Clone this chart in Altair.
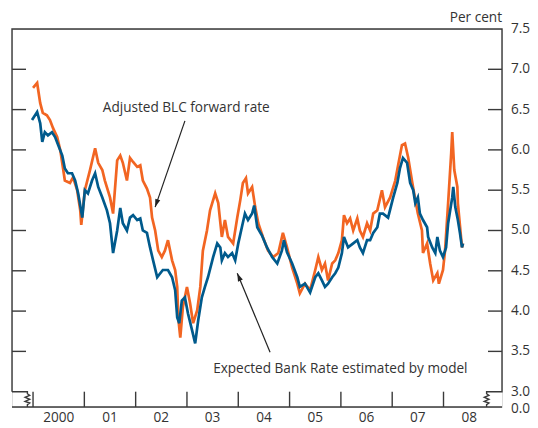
import altair as alt
import pandas as pd

# ---------------- data ----------------
# Adjusted BLC forward rate (orange), decimal year / per cent
blc_dates = [2000.00, 2000.04, 2000.08, 2000.14, 2000.19, 2000.27, 2000.33, 2000.39, 2000.47, 2000.53,
             2000.58, 2000.62, 2000.72, 2000.78, 2000.86, 2000.92, 2000.94, 2001.01, 2001.11, 2001.21,
             2001.27, 2001.35, 2001.40, 2001.50, 2001.56, 2001.64, 2001.70, 2001.75, 2001.83, 2001.89,
             2001.95, 2002.03, 2002.09, 2002.14, 2002.22, 2002.28, 2002.32, 2002.38, 2002.44, 2002.51,
             2002.57, 2002.63, 2002.71, 2002.77, 2002.81, 2002.83, 2002.87, 2002.92, 2003.00, 2003.06,
             2003.12, 2003.20, 2003.26, 2003.31, 2003.39, 2003.45, 2003.55, 2003.61, 2003.68, 2003.74,
             2003.80, 2003.90, 2003.98, 2004.04, 2004.09, 2004.15, 2004.19, 2004.27, 2004.33, 2004.39,
             2004.48, 2004.58, 2004.68, 2004.78, 2004.87, 2004.95, 2005.05, 2005.15, 2005.20, 2005.30,
             2005.40, 2005.50, 2005.56, 2005.63, 2005.69, 2005.75, 2005.83, 2005.89, 2005.95, 2006.02,
             2006.06, 2006.12, 2006.18, 2006.24, 2006.32, 2006.37, 2006.43, 2006.51, 2006.57, 2006.63,
             2006.71, 2006.80, 2006.86, 2006.96, 2007.06, 2007.11, 2007.19, 2007.25, 2007.31, 2007.39,
             2007.45, 2007.50, 2007.58, 2007.60, 2007.68, 2007.74, 2007.80, 2007.88, 2007.91, 2007.99,
             2008.03, 2008.09, 2008.15, 2008.17, 2008.21, 2008.27, 2008.28, 2008.36, 2008.38]
blc_vals = [6.77, 6.80, 6.83, 6.58, 6.46, 6.43, 6.37, 6.27, 6.16, 6.00,
            5.79, 5.62, 5.59, 5.66, 5.50, 5.25, 5.07, 5.50, 5.75, 6.02,
            5.84, 5.75, 5.62, 5.41, 5.21, 5.87, 5.93, 5.84, 5.62, 5.90,
            5.85, 5.79, 5.81, 5.62, 5.52, 5.41, 5.16, 5.00, 4.75, 4.67,
            4.75, 4.88, 4.63, 4.51, 4.30, 3.92, 3.67, 4.05, 4.30, 4.10,
            3.85, 4.01, 4.30, 4.75, 5.00, 5.25, 5.46, 5.34, 4.92, 5.13,
            4.92, 4.84, 5.16, 5.38, 5.59, 5.65, 5.46, 5.54, 5.29, 5.09,
            4.92, 4.75, 4.67, 4.72, 4.97, 4.79, 4.54, 4.34, 4.22, 4.34,
            4.26, 4.51, 4.67, 4.51, 4.59, 4.38, 4.59, 4.63, 4.72, 4.88,
            5.19, 5.09, 5.15, 5.00, 5.15, 5.00, 4.92, 5.09, 5.00, 5.21,
            5.25, 5.50, 5.29, 5.41, 5.62, 5.79, 6.06, 6.08, 5.91, 5.60,
            5.38, 5.21, 5.00, 4.72, 4.84, 4.59, 4.38, 4.47, 4.34, 4.51,
            4.75, 5.34, 5.96, 6.22, 5.75, 5.54, 5.34, 4.79, 4.84]

# Expected Bank Rate estimated by model (blue)
model_dates = [1999.98, 2000.08, 2000.14, 2000.18, 2000.23, 2000.29, 2000.37, 2000.43, 2000.49, 2000.57,
               2000.62, 2000.68, 2000.76, 2000.82, 2000.88, 2000.96, 2001.01, 2001.07, 2001.15, 2001.21,
               2001.27, 2001.35, 2001.44, 2001.50, 2001.56, 2001.64, 2001.70, 2001.75, 2001.83, 2001.89,
               2001.95, 2002.03, 2002.09, 2002.14, 2002.22, 2002.28, 2002.34, 2002.42, 2002.48, 2002.53,
               2002.63, 2002.71, 2002.77, 2002.81, 2002.85, 2002.90, 2002.96, 2003.02, 2003.10, 2003.16,
               2003.22, 2003.29, 2003.35, 2003.41, 2003.51, 2003.59, 2003.65, 2003.68, 2003.74, 2003.80,
               2003.88, 2003.94, 2004.00, 2004.07, 2004.13, 2004.19, 2004.27, 2004.31, 2004.37, 2004.46,
               2004.56, 2004.66, 2004.76, 2004.85, 2004.89, 2004.95, 2005.05, 2005.15, 2005.20, 2005.30,
               2005.40, 2005.50, 2005.56, 2005.63, 2005.69, 2005.75, 2005.83, 2005.89, 2005.95, 2006.02,
               2006.06, 2006.14, 2006.24, 2006.32, 2006.37, 2006.43, 2006.51, 2006.57, 2006.63, 2006.71,
               2006.76, 2006.82, 2006.92, 2007.02, 2007.10, 2007.15, 2007.21, 2007.29, 2007.35, 2007.41,
               2007.45, 2007.50, 2007.54, 2007.60, 2007.68, 2007.70, 2007.78, 2007.84, 2007.88, 2007.93,
               2007.99, 2008.05, 2008.09, 2008.17, 2008.19, 2008.23, 2008.28, 2008.32, 2008.36, 2008.38]
model_vals = [6.37, 6.47, 6.33, 6.10, 6.22, 6.18, 6.22, 6.16, 6.06, 5.93,
              5.77, 5.71, 5.71, 5.62, 5.46, 5.16, 5.50, 5.46, 5.62, 5.71,
              5.54, 5.41, 5.25, 5.09, 4.72, 5.00, 5.28, 5.09, 5.00, 5.16,
              5.19, 5.13, 5.15, 5.00, 4.97, 4.79, 4.63, 4.42, 4.47, 4.51,
              4.51, 4.42, 4.26, 3.92, 3.85, 4.13, 4.17, 3.97, 3.76, 3.60,
              3.89, 4.17, 4.30, 4.42, 4.67, 4.84, 4.79, 4.63, 4.72, 4.67,
              4.72, 4.63, 4.84, 5.04, 5.21, 5.13, 5.21, 5.31, 5.04, 4.94,
              4.79, 4.67, 4.59, 4.75, 4.88, 4.73, 4.59, 4.42, 4.30, 4.34,
              4.23, 4.42, 4.47, 4.38, 4.30, 4.34, 4.42, 4.47, 4.54, 4.72,
              4.92, 4.79, 4.84, 4.88, 4.79, 4.72, 4.88, 4.88, 4.97, 5.04,
              5.21, 5.21, 5.16, 5.41, 5.59, 5.77, 5.90, 5.84, 5.59, 5.50,
              5.34, 5.41, 5.21, 5.13, 5.04, 4.92, 4.79, 4.72, 4.92, 4.75,
              4.67, 4.79, 5.09, 5.41, 5.54, 5.29, 5.13, 4.97, 4.79, 4.84]

year_ticks = [2000, 2001, 2002, 2003, 2004, 2005, 2006, 2007, 2008]
year_labels = ["2000", "01", "02", "03", "04", "05", "06", "07", "08"]
y_tick_vals = [3.5, 4.0, 4.5, 5.0, 5.5, 6.0, 6.5, 7.0]
y_label_vals = [3.0, 3.5, 4.0, 4.5, 5.0, 5.5, 6.0, 6.5, 7.0, 7.5]
y_label_text = ["3.0", "3.5", "4.0", "4.5", "5.0", "5.5", "6.0", "6.5", "7.0", "7.5"]
break_label = "0.0"

ann_blc = "Adjusted BLC forward rate"
ann_model = "Expected Bank Rate estimated by model"
unit_label = "Per cent"

# ---------------- scales / styling ----------------
X_MIN, X_MAX = 1999.59, 2009.14
Y_BOT, Y_TOP = 2.81, 7.5      # broken axis: bottom of frame stands for 0.0
BREAK_W = 0.30               # width of the axis-break jog (years)
W, H = 490, 378
FONT = "Open Sans"
FS = 13.6
TXT = "#333333"
FRAME = "#3a3a3a"
ORANGE = "#F26522"
BLUE = "#005A8C"

xs = alt.Scale(domain=[X_MIN, X_MAX], nice=False, zero=False)
ys = alt.Scale(domain=[Y_BOT, Y_TOP], nice=False, zero=False)

XN = lambda f: alt.X(f, scale=xs, axis=None)
YN = lambda f: alt.Y(f, scale=ys, axis=None)

blc_df = pd.DataFrame({"t": blc_dates, "v": blc_vals})
model_df = pd.DataFrame({"t": model_dates, "v": model_vals})

blc_line = alt.Chart(blc_df).mark_line(color=ORANGE, strokeWidth=2.7).encode(
    x=XN("t:Q"), y=YN("v:Q"))
model_line = alt.Chart(model_df).mark_line(color=BLUE, strokeWidth=2.7).encode(
    x=XN("t:Q"), y=YN("v:Q"))

# ---------------- frame with axis breaks ----------------
def zig(x0, amp):
    return [(x0, 3.0), (x0, 2.975), (x0 + amp, 2.955), (x0 - amp, 2.93), (x0 + amp, 2.905),
            (x0 - amp, 2.88), (x0 + amp, 2.86), (x0, 2.84), (x0, Y_BOT)]

segs = []
outline = [(X_MIN, 3.0), (X_MIN, Y_TOP), (X_MAX, Y_TOP), (X_MAX, 3.0), (X_MAX - BREAK_W, 3.0)] + \
    zig(X_MAX - BREAK_W, 0.045)[1:]
left_jog = [(X_MIN, 3.0)] + zig(X_MIN + BREAK_W, 0.045)
bottom = [(X_MIN, Y_BOT), (X_MAX, Y_BOT)]
for name, pts in [("outline", outline), ("left", left_jog), ("bottom", bottom)]:
    for i, (a, b) in enumerate(pts):
        segs.append({"seg": name, "o": i, "x": a, "y": b})
frame = alt.Chart(pd.DataFrame(segs)).mark_line(color=FRAME, strokeWidth=1.4).encode(
    x=XN("x:Q"), y=YN("y:Q"), detail="seg:N", order="o:Q")

xticks = alt.Chart(pd.DataFrame({"t": year_ticks})).mark_rule(color=FRAME, strokeWidth=1.4).encode(
    x=XN("t:Q"), y=alt.datum(Y_BOT, scale=ys, axis=None), y2=alt.datum(3.0))
yt_df = pd.DataFrame({"v": y_tick_vals})
yticks_l = alt.Chart(yt_df).mark_rule(color=FRAME, strokeWidth=1.4).encode(
    y=YN("v:Q"), x=alt.value(0), x2=alt.value(14))
yticks_r = alt.Chart(yt_df).mark_rule(color=FRAME, strokeWidth=1.4).encode(
    y=YN("v:Q"), x=alt.value(W - 14), x2=alt.value(W))

# ---------------- tick labels (as text) ----------------
ylab_df = pd.DataFrame({"v": y_label_vals, "s": y_label_text})
ylabels = alt.Chart(ylab_df).mark_text(align="left", baseline="middle", font=FONT, fontSize=FS,
                                       color=TXT).encode(
    x=alt.value(W + 9), y=YN("v:Q"), text="s:N")
zero_label = alt.Chart(pd.DataFrame({"v": [Y_BOT], "s": [break_label]})).mark_text(
    align="left", baseline="middle", font=FONT, fontSize=FS, color=TXT, dy=2).encode(
    x=alt.value(W + 9), y=YN("v:Q"), text="s:N")
xlab_df = pd.DataFrame({"t": [y + 0.5 for y in year_ticks], "s": year_labels})
xlabels = alt.Chart(xlab_df).mark_text(align="center", baseline="top", font=FONT, fontSize=FS,
                                       color=TXT).encode(
    x=XN("t:Q"), y=alt.value(H + 4), text="s:N")

# ---------------- annotations ----------------
arrows = pd.DataFrame([
    {"a": "blc", "o": 0, "x": 2002.96, "y": 6.36},
    {"a": "blc", "o": 1, "x": 2002.38, "y": 5.29},
    {"a": "model", "o": 0, "x": 2004.62, "y": 3.49},
    {"a": "model", "o": 1, "x": 2003.98, "y": 4.47},
])
arrow_lines = alt.Chart(arrows).mark_line(color="#222222", strokeWidth=1.2).encode(
    x=XN("x:Q"), y=YN("y:Q"), detail="a:N", order="o:Q")
heads = pd.DataFrame([
    {"x": 2002.38, "y": 5.29, "ang": 199},
    {"x": 2003.98, "y": 4.47, "ang": 337},
])
arrow_heads = alt.Chart(heads).mark_point(
    shape="M0,0L-0.55,1.7L0.55,1.7Z", filled=True, color="#222222", size=90, opacity=1
).encode(x=XN("x:Q"), y=YN("y:Q"), angle=alt.Angle("ang:Q", scale=None))

texts = pd.DataFrame([
    {"x": 2001.36, "y": 6.52, "s": ann_blc},
    {"x": 2003.51, "y": 3.28, "s": ann_model},
])
ann_text = alt.Chart(texts).mark_text(align="left", baseline="middle", font=FONT, fontSize=FS,
                                      color=TXT).encode(
    x=XN("x:Q"), y=YN("y:Q"), text="s:N")

unit = alt.Chart(pd.DataFrame({"s": [unit_label]})).mark_text(
    align="right", baseline="middle", font=FONT, fontSize=FS, color=TXT
).encode(x=alt.value(W), y=alt.value(-11), text="s:N")

chart = alt.layer(
    blc_line, model_line, frame, xticks, yticks_l, yticks_r, ylabels, zero_label, xlabels,
    arrow_lines, arrow_heads, ann_text, unit
).properties(
    width=W, height=H,
    autosize=alt.AutoSizeParams(type="none"),
    padding={"left": 4, "top": 21, "right": 28, "bottom": 20},
).configure_view(stroke=None).configure(background="white")

chart.save("out.html", embed_options={"renderer": "svg", "actions": False})
